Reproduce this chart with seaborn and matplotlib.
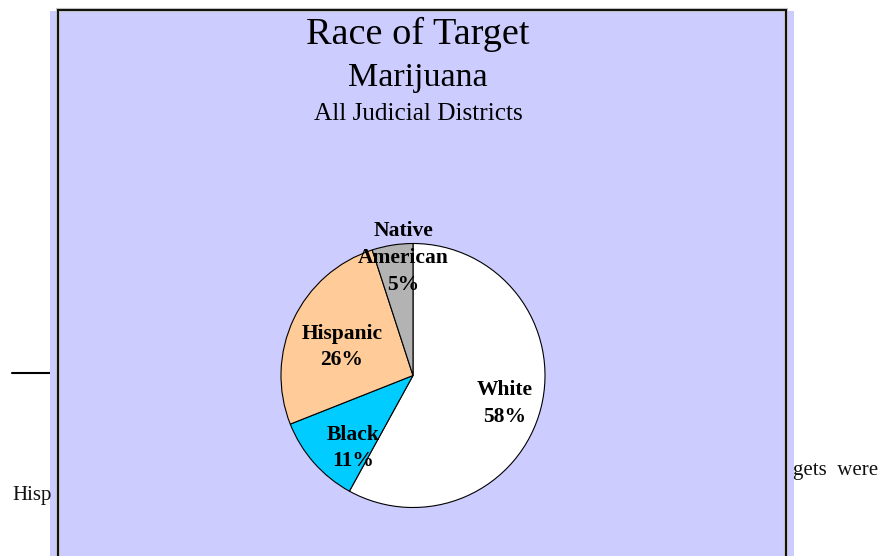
import matplotlib
matplotlib.use("Agg")
import matplotlib.pyplot as plt
import seaborn as sns
from matplotlib.patches import Rectangle
from matplotlib.lines import Line2D

# data
races = ["White", "Black", "Hispanic", "Native\nAmerican"]
shares = [58, 11, 26, 5]
slice_colors = ["#FFFFFF", "#00CCFF", "#FFCC99", "#B3B3B3"]

# label layout (pie units, radius = 1)
label_xy = [(0.697, -0.21), (-0.455, -0.55), (-0.538, 0.215), (-0.076, 0.89)]

sns.set_theme(style="white")
plt.rcParams["font.family"] = ["Liberation Serif", "DejaVu Serif"]
plt.rcParams["text.color"] = "black"

W, H = 880, 556
fig = plt.figure(figsize=(W / 100, H / 100), dpi=100)
fig.patch.set_facecolor("white")

# page text peeking around the chart
fig.text(12 / W, 1 - 500 / H, "Hisp", fontsize=15, color="#111111", va="baseline", ha="left")
fig.text(878 / W, 1 - 475 / H, "gets  were", fontsize=15, color="#111111", va="baseline", ha="right")
fig.add_artist(Line2D([12 / W, 52 / W], [1 - 373 / H, 1 - 373 / H], color="black", lw=1.5,
                      transform=fig.transFigure, zorder=0.5))

# chart panel
fig.add_artist(Rectangle((50 / W, -0.01), 744 / W, (H - 11) / H + 0.01, transform=fig.transFigure,
                         facecolor="#CCCCFF", edgecolor="none", zorder=1))
fig.add_artist(Rectangle((58 / W, -0.01), 728 / W, (H - 10) / H + 0.01, transform=fig.transFigure,
                         facecolor="none", edgecolor="#C8C8C8", lw=3, zorder=1.1))
fig.add_artist(Rectangle((58 / W, -0.01), 728 / W, (H - 10) / H + 0.01, transform=fig.transFigure,
                         facecolor="none", edgecolor="#111111", lw=1.5, zorder=1.2))

# titles
cx = 418 / W
fig.text(cx, 1 - 44 / H, "Race of Target", fontsize=27.5, ha="center", va="baseline", zorder=3)
fig.text(cx, 1 - 86 / H, "Marijuana", fontsize=24.5, ha="center", va="baseline", zorder=3)
fig.text(cx, 1 - 120 / H, "All Judicial Districts", fontsize=18.2, ha="center", va="baseline", zorder=3)

# pie
pcx, pcy, r = 413, 375.5, 132
ax = fig.add_axes([(pcx - r) / W, (H - pcy - r) / H, 2 * r / W, 2 * r / H], zorder=2)
wedges, _ = ax.pie(shares, colors=slice_colors, startangle=90, counterclock=False,
                   wedgeprops=dict(edgecolor="black", linewidth=0.8))
ax.set_xlim(-1, 1)
ax.set_ylim(-1, 1)
ax.axis("off")

for name, val, (lx, ly) in zip(races, shares, label_xy):
    ax.text(lx, ly, f"{name}\n{val}%", ha="center", va="center", fontsize=15.5,
            fontweight="bold", linespacing=1.45, color="black")

fig.savefig("out.png", dpi=100)
